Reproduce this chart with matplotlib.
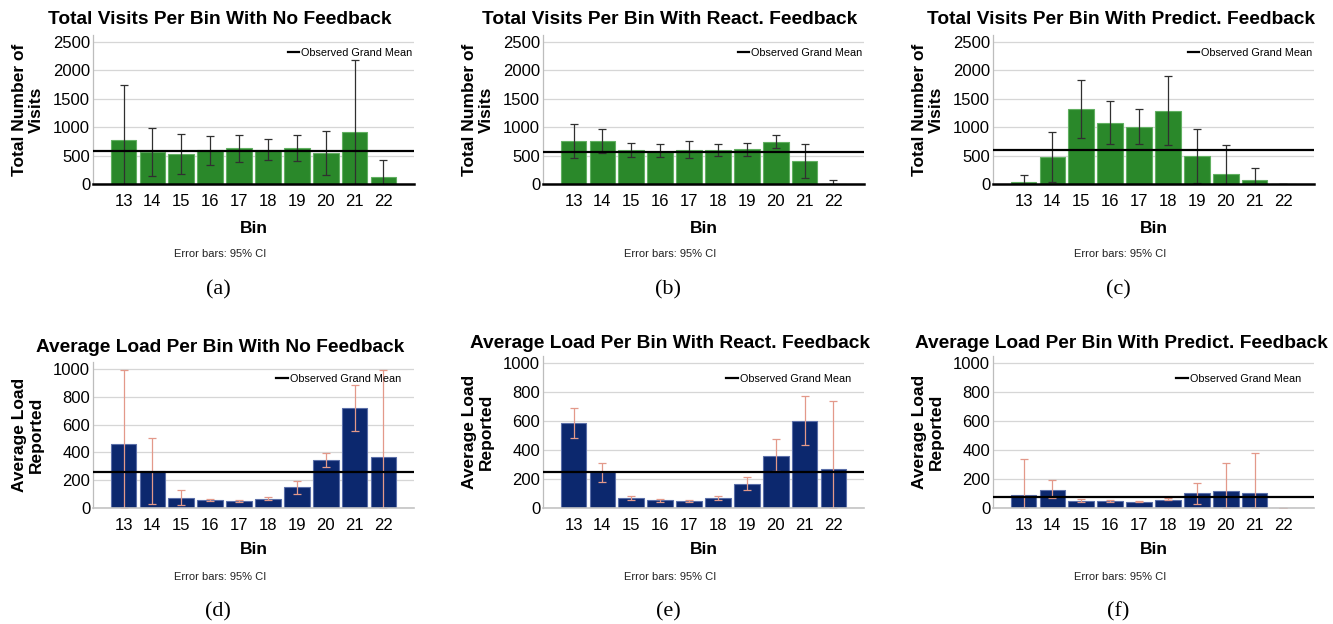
import numpy as np
import matplotlib.pyplot as plt

plt.rcParams['font.family'] = ['Liberation Sans', 'DejaVu Sans']

bins = ['13', '14', '15', '16', '17', '18', '19', '20', '21', '22']

# total visits per bin (top row)
visits_none = [769, 557, 528, 593, 628, 604, 628, 546, 910, 123]
visits_none_lo = [0, 135, 182, 340, 393, 423, 399, 164, 0, 0]
visits_none_hi = [1749, 986, 874, 845, 857, 792, 857, 927, 2183, 428]
visits_react = [751, 757, 593, 569, 604, 593, 610, 745, 399, 5]
visits_react_lo = [458, 546, 475, 475, 464, 499, 499, 634, 106, 0]
visits_react_hi = [1056, 962, 716, 698, 763, 698, 722, 869, 698, 70]
visits_pred = [35, 469, 1315, 1074, 1004, 1285, 493, 182, 70, 0]
visits_pred_lo = [0, 35, 810, 698, 698, 681, 12, 0, 0, 0]
visits_pred_hi = [164, 910, 1831, 1461, 1320, 1901, 962, 681, 276, 0]
visits_means = [587, 569, 593]

# average load per bin (bottom row)
load_none = [459, 266, 74, 55, 50, 67, 148, 342, 718, 366]
load_none_lo = [0, 26, 22, 48, 45, 55, 103, 292, 557, 0]
load_none_hi = [990, 507, 129, 62, 60, 81, 196, 397, 888, 990]
load_react = [585, 250, 67, 55, 48, 67, 165, 362, 603, 271]
load_react_lo = [484, 177, 53, 44, 39, 53, 122, 255, 433, 0]
load_react_hi = [690, 314, 83, 64, 57, 83, 211, 479, 773, 739]
load_pred = [89, 126, 50, 48, 44, 57, 101, 115, 101, 0]
load_pred_lo = [0, 67, 44, 44, 39, 53, 30, 0, 0, 0]
load_pred_hi = [337, 193, 60, 53, 50, 67, 174, 314, 383, 0]
load_means = [256, 248, 73]

titles_top = ['Total Visits Per Bin With No Feedback',
              'Total Visits Per Bin With React. Feedback',
              'Total Visits Per Bin With Predict. Feedback']
titles_bot = ['Average Load Per Bin With No Feedback',
              'Average Load Per Bin With React. Feedback',
              'Average Load Per Bin With Predict. Feedback']
letters = ['(a)', '(b)', '(c)', '(d)', '(e)', '(f)']

W, H = 1333, 624
fig = plt.figure(figsize=(W / 100, H / 100), dpi=100)

green = '#2a882a'
navy = '#0c286e'

top_data = [(visits_none, visits_none_lo, visits_none_hi),
            (visits_react, visits_react_lo, visits_react_hi),
            (visits_pred, visits_pred_lo, visits_pred_hi)]
bot_data = [(load_none, load_none_lo, load_none_hi),
            (load_react, load_react_lo, load_react_hi),
            (load_pred, load_pred_lo, load_pred_hi)]

x = np.arange(len(bins))


def fx(px):
    return px / W


def fy(py):
    return 1 - py / H


for row in range(2):
    for col in range(3):
        off = col * 450
        left = 93 + off
        if row == 0:
            top_px, zero_px = 35, 184
            ymax = 2620
            ticks = [0, 500, 1000, 1500, 2000, 2500]
            vals, lo, hi = top_data[col]
            mean = visits_means[col]
            color, edge, ecol = green, '#62b062', '#303030'
            title = titles_top[col]
            title_y = 20
            lab = 'Total Number of\nVisits'
            bin_y, note_y, let_y = 228, 254, 290
            leg_px, leg_x = 52, 0.996
        else:
            top_px = 362 if col == 0 else 356
            zero_px = 508
            ymax = 1050
            ticks = [0, 200, 400, 600, 800, 1000]
            vals, lo, hi = bot_data[col]
            mean = load_means[col]
            color, edge, ecol = navy, '#5b6fa8', '#e3998a'
            title = titles_bot[col]
            title_y = 347 if col == 0 else 344
            lab = 'Average Load\nReported'
            bin_y, note_y, let_y = 550, 577, 612
            leg_px, leg_x = 378, 0.96

        ax = fig.add_axes([fx(left), fy(zero_px), fx(321), (zero_px - top_px) / H])
        vals = np.array(vals, float)
        err = [vals - np.array(lo), np.array(hi) - vals]
        ax.bar(x, vals, width=0.89, color=color, edgecolor=edge, linewidth=0.8, zorder=2)
        ax.errorbar(x, vals, yerr=err, fmt='none', ecolor=ecol, elinewidth=0.9,
                    capsize=2.6, capthick=0.9, zorder=3)
        ax.axhline(mean, color='black', lw=1.6, zorder=4, label='Observed Grand Mean')

        ax.set_xlim(-1.06, len(bins) - 1 + 1.06)
        ax.set_ylim(0, ymax)
        ax.set_yticks(ticks)
        ax.set_xticks(x)
        ax.set_xticklabels(bins)
        ax.tick_params(axis='both', length=0, labelsize=12)
        ax.tick_params(axis='x', pad=7)
        ax.tick_params(axis='y', pad=2)
        ax.grid(axis='y', color='#d6d6d6', lw=0.9, zorder=0)
        ax.set_axisbelow(True)
        for s in ['top', 'right']:
            ax.spines[s].set_visible(False)
        ax.spines['left'].set_color('#bdbdbd')
        ax.spines['left'].set_linewidth(0.9)
        if row == 0:
            ax.spines['bottom'].set_color('black')
            ax.spines['bottom'].set_linewidth(1.8)
        else:
            ax.spines['bottom'].set_color('#c4c4c4')
            ax.spines['bottom'].set_linewidth(1.2)
        ax.spines['bottom'].set_zorder(5)

        leg_anchor = (zero_px - (leg_px - 3.8)) / (zero_px - top_px)
        ax.legend(loc='upper right', bbox_to_anchor=(leg_x, leg_anchor), frameon=False,
                  fontsize=7.8, handlelength=1.05, handletextpad=0.2, borderaxespad=0,
                  borderpad=0)

        ax.text((28 - 93) / 321, 0.5, lab, transform=ax.transAxes, rotation=90,
                ha='center', va='center', fontsize=12.5, fontweight='bold', linespacing=1.15)
        ax.text(0.5, (zero_px - bin_y) / (zero_px - top_px), 'Bin', transform=ax.transAxes,
                ha='center', va='center', fontsize=12.5, fontweight='bold')

        cx = 220 + off + (1 if col == 2 else 0)
        fig.text(fx(cx), fy(title_y), title, ha='center', va='center',
                 fontsize=13.8, fontweight='bold')
        fig.text(fx(220 + off), fy(note_y), 'Error bars: 95% CI', ha='center', va='center',
                 fontsize=8, color='#222222')
        fig.text(fx(218 + off), fy(let_y), letters[row * 3 + col], ha='center', va='center',
                 fontsize=16, family=['Liberation Serif', 'DejaVu Serif'])

fig.savefig('out.png', dpi=100)
